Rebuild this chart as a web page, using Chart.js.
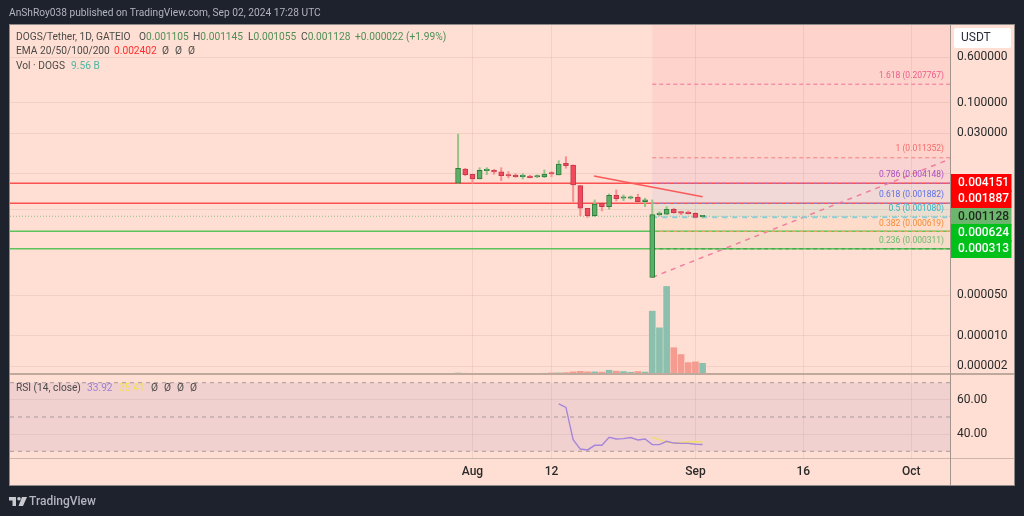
<!DOCTYPE html>
<html>
<head>
<meta charset="utf-8">
<title>DOGS/Tether</title>
<script src="https://cdn.jsdelivr.net/npm/chart.js@4"></script>
<style>
html, body { margin: 0; padding: 0; background: #1e222d; }
#wrap { position: relative; width: 1024px; height: 516px; overflow: hidden; font-family: Roboto, sans-serif; }
canvas { position: absolute; left: 0; top: 0; }
.txt { position: absolute; white-space: pre; font-size: 10.2px; line-height: 14px; color: #4a4a48; }
.txt b { font-weight: normal; }
.g { color: #4f8f56; }
.l1 { top: 30px; } .l2 { top: 44px; } .l3 { top: 59px; } .l4 { top: 381px; }
</style>
</head>
<body>
<div id="wrap">
    <canvas id="grafico" width="1024" height="516"></canvas>
    <div class="txt" style="left:9px;top:6px;color:#b2b5be;">AnShRoy038 published on TradingView.com, Sep 02, 2024 17:28 UTC</div>

    <div class="txt l1" style="left:16px;">DOGS/Tether, 1D, GATEIO</div>
    <div class="txt l1" style="left:139px;">O<b class="g">0.001105</b></div>
    <div class="txt l1" style="left:193px;">H<b class="g">0.001145</b></div>
    <div class="txt l1" style="left:248px;">L<b class="g">0.001055</b></div>
    <div class="txt l1" style="left:301px;">C<b class="g">0.001128</b></div>
    <div class="txt l1 g" style="left:355px;">+0.000022 (+1.99%)</div>

    <div class="txt l2" style="left:16px;">EMA 20/50/100/200</div>
    <div class="txt l2" style="left:114px;color:#ff2d2d;">0.002402</div>
    <div class="txt l2" style="left:162px;">Ø</div>
    <div class="txt l2" style="left:175px;">Ø</div>
    <div class="txt l2" style="left:188px;">Ø</div>

    <div class="txt l3" style="left:16px;">Vol · DOGS</div>
    <div class="txt l3" style="left:71px;color:#4db6a4;">9.56 B</div>

    <div class="txt l4" style="left:16px;">RSI (14, close)</div>
    <div class="txt l4" style="left:87px;color:#9a7fd6;">33.92</div>
    <div class="txt l4" style="left:119px;color:#f2e14c;">35.41</div>
    <div class="txt l4" style="left:151px;">Ø</div>
    <div class="txt l4" style="left:164px;">Ø</div>
    <div class="txt l4" style="left:177px;">Ø</div>
    <div class="txt l4" style="left:190px;">Ø</div>

    <svg style="position:absolute;left:9px;top:497px;" width="18" height="9" viewBox="0 0 18 9">
        <path d="M0 0H7V9H3.5V3.5H0Z M13 0H18L14 9H9.5Z" fill="#c8cad0"/><circle cx="10" cy="1.8" r="1.8" fill="#c8cad0"/>
    </svg>
    <div class="txt" style="left:29px;top:494px;color:#b2b5be;font-size:12px;font-weight:500;">TradingView</div>
</div>
<script>
// Dias contados a partir de 1 de agosto (Jul 30 = -2)
var candleDays = [-2, -1, 0, 1, 2, 3, 4, 5, 6, 7, 8, 9, 10, 11, 12, 13, 14, 15, 16, 17, 18, 19, 20, 21, 22, 23, 24, 25, 26, 27, 28, 29, 30, 31, 32];
var opens = [0.00415, 0.0073, 0.00592, 0.00492, 0.00683, 0.00694, 0.00649, 0.00576, 0.00576, 0.00539, 0.00547, 0.00532, 0.00532, 0.00624, 0.00576, 0.00914, 0.00855, 0.00378, 0.00155, 0.00115, 0.00188, 0.00165, 0.00258, 0.0023, 0.0023, 0.00239, 0.00201, 0.000101, 0.0012, 0.00123, 0.00149, 0.00132, 0.0013, 0.00127, 0.001105];
var highs = [0.02904, 0.00751, 0.00592, 0.00769, 0.00769, 0.00722, 0.00769, 0.00656, 0.00607, 0.00607, 0.00569, 0.00576, 0.00702, 0.00656, 0.01013, 0.01187, 0.00855, 0.00378, 0.00155, 0.00215, 0.00195, 0.00272, 0.00319, 0.00262, 0.00251, 0.00269, 0.0023, 0.00215, 0.00135, 0.00165, 0.00155, 0.00134, 0.00139, 0.0013, 0.001145];
var lows = [0.00415, 0.0056, 0.00415, 0.00492, 0.00583, 0.00592, 0.0046, 0.00512, 0.00526, 0.00492, 0.00512, 0.00518, 0.00518, 0.00539, 0.00576, 0.00751, 0.00201, 0.00115, 0.00107, 0.00111, 0.00139, 0.00149, 0.00206, 0.00209, 0.00223, 0.00201, 0.00165, 0.000101, 0.00114, 0.0012, 0.00127, 0.0012, 0.00123, 0.00107, 0.001055];
var closes = [0.00751, 0.00583, 0.00492, 0.00694, 0.00722, 0.00649, 0.0056, 0.00554, 0.00532, 0.0056, 0.00518, 0.00554, 0.00599, 0.00599, 0.0089, 0.00832, 0.00388, 0.00155, 0.00115, 0.00183, 0.00165, 0.00258, 0.00226, 0.00239, 0.00239, 0.00201, 0.00215, 0.0012, 0.00125, 0.00149, 0.0013, 0.00128, 0.00125, 0.00108, 0.001128];
// Volume em bilhões
var volumes = [0.5, 0.3, 0.2, 0.2, 0.2, 0.2, 0.2, 0.2, 0.2, 0.2, 0.2, 0.2, 0.3, 0.65, 0.65, 0.9, 1.6, 2.1, 1.6, 1.6, 1.4, 3.1, 2.3, 1.9, 1.2, 1.9, 1.4, 58, 42.5, 81, 24, 17.7, 10.2, 10.9, 9.56];
var volumeUp = [1, 0, 0, 1, 1, 0, 0, 0, 0, 1, 0, 1, 1, 0, 1, 0, 0, 0, 0, 1, 0, 1, 0, 1, 1, 0, 1, 1, 1, 1, 0, 0, 0, 0, 1];
var rsiDays = [12, 13, 14, 15, 16, 17, 18, 19, 20, 21, 22, 23, 24, 25, 26, 27, 28, 29, 30, 31, 32];
var rsiValues = [57.6, 55.6, 36.8, 31.3, 30.8, 33.5, 33.5, 38.2, 37.2, 37.4, 38, 36.6, 37.2, 33.9, 33.9, 35.8, 34.8, 34.6, 34.6, 34.1, 33.92];
var rsiMaDays = [25, 26, 27, 28, 29, 30, 31, 32];
var rsiMaValues = [38.3, 36.8, 35.4, 34.6, 35.2, 35.4, 35.6, 35.41];
var rsiBands = [70, 50, 30];

var redLevels = [0.004151, 0.001887];
var greenLevels = [0.000624, 0.000313];
var lastPrice = 0.001128;
var fibRatios = ['1.618', '1', '0.786', '0.618', '0.5', '0.382', '0.236'];
var fibPrices = [0.207767, 0.011352, 0.004148, 0.001882, 0.00108, 0.000619, 0.000311];
var redTrendDays = [16.9, 32];
var redTrendPrices = [0.00554, 0.00243];
var fibTrendDays = [25, 66.4];
var fibTrendPrices = [0.000101, 0.01083];

var priceTicks = [0.6, 0.1, 0.03, 0.0062, 0.0015, 0.00005, 0.00001, 0.000003];
var priceTickLabels = ['0.600000', '0.100000', '0.030000', '', '', '0.000050', '0.000010', '0.000002'];
var dateTicks = [0, 11, 31, 46, 61];
var dateLabels = ['Aug', '12', 'Sep', '16', 'Oct'];
var rsiTicks = [40, 60];
var tagPrices = [0.004151, 0.001887, 0.001128, 0.000624, 0.000313];

var xMin = -64.3, xMax = 66.4;
var fibStart = 25;

var corGrid = 'rgba(140, 100, 85, 0.11)';
var fonte = 'Roboto, sans-serif';

function pontos(xs, ys) {
    return xs.map(function (x, i) { return { x: x, y: ys[i] }; });
}

function linha(xs, ys, cor, largura, tracejado, eixo, ordem) {
    return {
        type: 'line',
        data: pontos(xs, ys),
        yAxisID: eixo,
        borderColor: cor,
        borderWidth: largura,
        borderDash: tracejado || [],
        pointRadius: 0,
        tension: 0,
        order: ordem
    };
}

function nivel(valor, inicio, cor, largura, tracejado, eixo, ordem) {
    return linha([inicio, xMax], [valor, valor], cor, largura, tracejado, eixo, ordem);
}

var datasets = [];

// Volume (atrás de tudo)
datasets.push({
    type: 'bar', yAxisID: 'yVol', grouped: false, barThickness: 6, order: 20,
    data: pontos(candleDays, volumes),
    backgroundColor: volumeUp.map(function (u) { return u ? '#8cc0ae' : '#f59b8f'; })
});

// Pavios e corpos dos candles
datasets.push({
    type: 'bar', yAxisID: 'y', grouped: false, barThickness: 1.4, order: 2,
    data: candleDays.map(function (d, i) { return { x: d, y: [lows[i], highs[i]] }; }),
    backgroundColor: closes.map(function (c, i) { return c >= opens[i] ? '#96c587' : '#fb8f8f'; })
});
datasets.push({
    type: 'bar', yAxisID: 'y', grouped: false, barThickness: 5, order: 1, minBarLength: 1.5,
    data: candleDays.map(function (d, i) { return { x: d, y: [opens[i], closes[i]] }; }),
    backgroundColor: closes.map(function (c, i) { return c >= opens[i] ? '#5cb065' : '#f24a5c'; }),
    borderColor: closes.map(function (c, i) { return c >= opens[i] ? '#2f7d3f' : '#c43a4a'; }),
    borderWidth: 1,
    borderSkipped: false
});

// Linhas horizontais
redLevels.forEach(function (v) { datasets.push(nivel(v, xMin, '#fb5050', 1.4, null, 'y', 6)); });
greenLevels.forEach(function (v) { datasets.push(nivel(v, xMin, '#5cc45c', 1.4, null, 'y', 6)); });
datasets.push(nivel(lastPrice, xMin, '#8fbf8a', 1, [1, 2], 'y', 7));

// Fibonacci
var fibCores = ['#f0709a', '#f77f7f', '#b26fc4', '#7d8fe8', '#8ccdd6', '#f5a05a', '#3f9a4a'];
fibPrices.forEach(function (v, i) {
    var grossa = fibRatios[i] === '0.5';
    datasets.push(nivel(v, fibStart, fibCores[i], grossa ? 2 : 1, grossa ? [5, 5] : [4, 3], 'y', 5));
});
datasets.push(linha(fibTrendDays, fibTrendPrices, '#f07fa0', 1.5, [5, 5], 'y', 5));
datasets.push(linha(redTrendDays, redTrendPrices, '#fa5a5a', 1.6, null, 'y', 4));

// RSI
rsiBands.forEach(function (v) { datasets.push(nivel(v, xMin, '#a8999a', 1, [4, 4], 'yRsi', 6)); });
datasets.push(linha(rsiMaDays, rsiMaValues, '#f2dc6a', 1.4, null, 'yRsi', 4));
datasets.push(linha(rsiDays, rsiValues, '#a586d8', 1.4, null, 'yRsi', 3));

var fundo = {
    id: 'fundo',
    // o eixo do RSI divide a mesma coluna do eixo de preços
    afterLayout: function (chart) {
        var r = chart.scales.yRsi;
        r.left = chart.chartArea.right;
        r.right = r.left + 64;
    },
    beforeDraw: function (chart) {
        var c = chart.ctx, a = chart.chartArea, y = chart.scales.y, r = chart.scales.yRsi, x = chart.scales.x;
        c.save();
        c.fillStyle = '#ffdfd3';
        c.fillRect(9, 24, 1006, 462);
        // zonas do Fibonacci
        var xi = x.getPixelForValue(fibStart);
        var limites = [a.top].concat(fibPrices.slice(1).map(function (v) { return y.getPixelForValue(v); }), [374]);
        var zonas = ['#fdd3cb', '#f8d3d1', '#f1d9d7', '#ecddd1', '#fedcc9', '#f4dcc9'];
        zonas.forEach(function (cor, i) {
            c.fillStyle = cor;
            c.fillRect(xi, limites[i], a.right - xi, limites[i + 1] - limites[i]);
        });
        // faixa do RSI
        c.fillStyle = '#f1d1d0';
        var r70 = r.getPixelForValue(70), r30 = r.getPixelForValue(30);
        c.fillRect(a.left, r70, a.right - a.left, r30 - r70);
        c.restore();
    },
    afterDraw: function (chart) {
        var c = chart.ctx, a = chart.chartArea, y = chart.scales.y;
        c.save();
        // separadores
        c.strokeStyle = '#bfa89c';
        c.lineWidth = 2;
        c.beginPath(); c.moveTo(9, 374); c.lineTo(1015, 374); c.stroke();
        c.lineWidth = 1;
        c.strokeStyle = '#cdb6aa';
        c.beginPath(); c.moveTo(9, 458.5); c.lineTo(1015, 458.5); c.stroke();
        c.strokeStyle = '#a2948c';
        c.beginPath(); c.moveTo(950.5, 24); c.lineTo(950.5, 486); c.stroke();
        c.strokeStyle = '#8d8a88';
        c.strokeRect(9.5, 24.5, 1005, 461);

        // rótulos do Fibonacci
        c.font = '8.5px ' + fonte;
        c.textAlign = 'right';
        c.textBaseline = 'middle';
        var corTexto = ['#ee5c8c', '#f56a6a', '#a850c0', '#5a70e8', '#35b5c8', '#f28c38', '#6cb96c'];
        var desvio = [-8, -8.5, -8, -8, -8, -8, -8.5];
        fibPrices.forEach(function (v, i) {
            c.fillStyle = corTexto[i];
            c.fillText(fibRatios[i] + ' (' + v.toFixed(6) + ')', 944, y.getPixelForValue(v) + desvio[i]);
        });

        // etiquetas de preço
        var cores = ['#ff0000', '#ff0000', '#6cb56c', '#00c01a', '#00c01a'];
        var textos = ['#ffffff', '#ffffff', '#1f2a1f', '#ffffff', '#ffffff'];
        var ajuste = [0, -4, 0.5, 1.5, 0.5];
        c.font = '500 12px ' + fonte;
        c.textAlign = 'left';
        tagPrices.forEach(function (v, i) {
            var py = y.getPixelForValue(v) + ajuste[i];
            c.fillStyle = cores[i];
            c.fillRect(951, Math.round(py - 9), 60.5, 18);
        });
        tagPrices.forEach(function (v, i) {
            var py = y.getPixelForValue(v) + ajuste[i];
            c.fillStyle = textos[i];
            c.fillText(v.toFixed(6), 958, py);
        });

        // botão USDT
        c.fillStyle = '#ffffff';
        c.beginPath();
        c.roundRect(954, 28, 57, 20, 2);
        c.fill();
        c.fillStyle = '#2a2e39';
        c.font = '12px ' + fonte;
        c.fillText('USDT', 961, 38);
        c.restore();
    }
};

new Chart(document.getElementById('grafico'), {
    data: { datasets: datasets },
    plugins: [fundo],
    options: {
        responsive: false,
        animation: false,
        events: [],
        layout: { padding: { left: 10, top: 24, right: 10, bottom: 30 } },
        plugins: { legend: { display: false }, tooltip: { enabled: false } },
        scales: {
            x: {
                type: 'linear', offset: false, min: xMin, max: xMax,
                afterBuildTicks: function (s) { s.ticks = dateTicks.map(function (v) { return { value: v }; }); },
                afterFit: function (s) { s.height = 28; },
                grid: { color: corGrid, tickLength: 0, offset: false },
                border: { display: false },
                ticks: {
                    autoSkip: false, maxRotation: 0, padding: 7,
                    color: '#2a2a2a', font: { family: fonte, size: 12, weight: '500' },
                    callback: function (v, i) { return dateLabels[i]; }
                }
            },
            y: {
                type: 'logarithmic', position: 'right', min: 8.05e-8, max: 2.239,
                afterBuildTicks: function (s) { s.ticks = priceTicks.map(function (v) { return { value: v }; }); },
                afterFit: function (s) { s.width = 64; },
                grid: { color: corGrid, tickLength: 0 },
                border: { display: false },
                ticks: {
                    autoSkip: false, padding: 7, color: '#2a2a2a', font: { family: fonte, size: 12 },
                    callback: function (v, i) { return priceTickLabels[i]; }
                }
            },
            yRsi: {
                type: 'linear', position: 'right', weight: -1, min: 26.09, max: 279.2,
                afterBuildTicks: function (s) { s.ticks = rsiTicks.map(function (v) { return { value: v }; }); },
                afterFit: function (s) { s.width = 0; },
                grid: { color: corGrid, tickLength: 0 },
                border: { display: false },
                ticks: {
                    autoSkip: false, padding: 7, color: '#2a2a2a', font: { family: fonte, size: 12 },
                    callback: function (v) { return v.toFixed(2); }
                }
            },
            yVol: {
                type: 'linear', display: false, min: -78.5, max: 325
            }
        }
    }
});
</script>
</body>
</html>
